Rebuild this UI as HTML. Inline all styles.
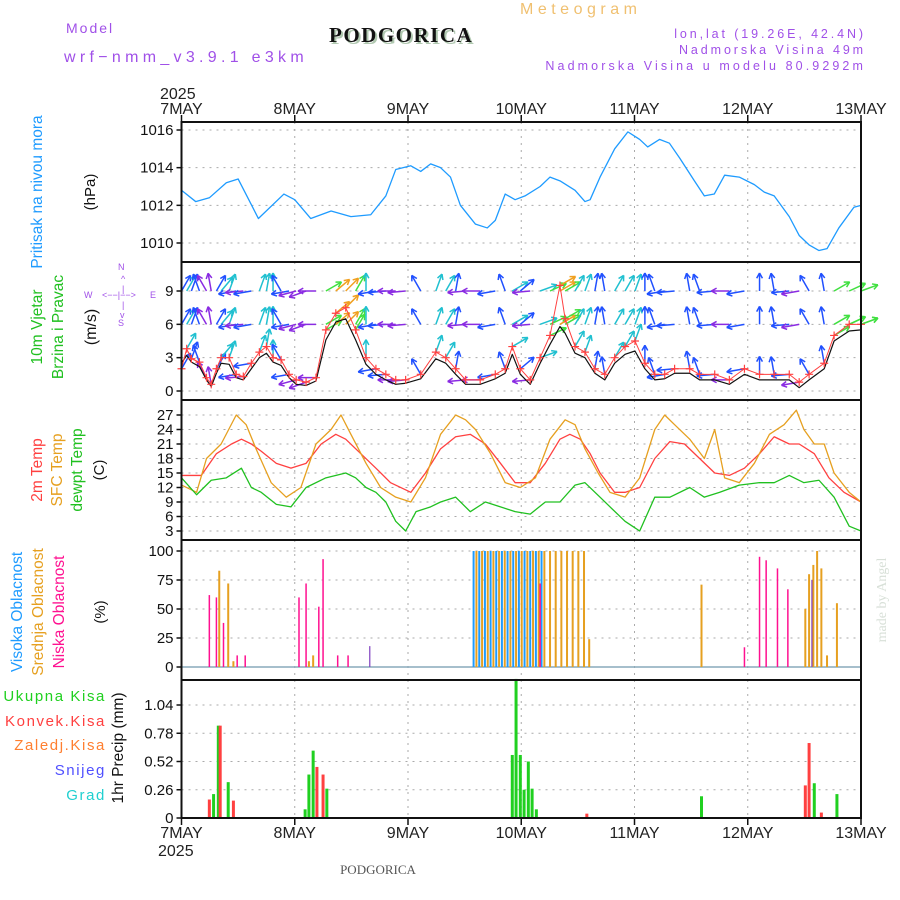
<!DOCTYPE html>
<html><head><meta charset="utf-8"><style>
body{margin:0;background:#fff;}
svg{display:block;font-family:"Liberation Sans",sans-serif;}
</style></head><body>
<svg id="chart" width="900" height="900" viewBox="0 0 900 900">
<g id="texts">
<text x="66" y="33" font-size="14" fill="#a050e8" letter-spacing="2">Model</text>
<text x="64" y="62" font-size="16" fill="#a050e8" letter-spacing="4.3">wrf−nmm_v3.9.1 e3km</text>
<text x="331" y="44" font-size="21" font-weight="bold" fill="#b0c8b0" font-family="Liberation Serif,serif" letter-spacing="1.5">PODGORICA</text>
<text x="329" y="42" font-size="21" font-weight="bold" fill="#111" font-family="Liberation Serif,serif" letter-spacing="1.5">PODGORICA</text>
<text x="520" y="14" font-size="16" fill="#f0c070" letter-spacing="4.5">Meteogram</text>
<text x="866" y="38" font-size="12.5" fill="#a050e8" text-anchor="end" letter-spacing="2.9">lon,lat (19.26E, 42.4N)</text>
<text x="866" y="54" font-size="12.5" fill="#a050e8" text-anchor="end" letter-spacing="2.9">Nadmorska Visina 49m</text>
<text x="866" y="70" font-size="12.5" fill="#a050e8" text-anchor="end" letter-spacing="3.1">Nadmorska Visina u modelu 80.9292m</text>
<text x="160" y="99" font-size="16" fill="#222">2025</text>
<text x="158" y="856" font-size="16" fill="#222">2025</text>
<text x="378" y="874" font-size="13" fill="#555" font-family="Liberation Serif,serif" text-anchor="middle">PODGORICA</text>
<text transform="translate(886,600) rotate(-90)" font-size="14" fill="#d8e0d8" font-family="Liberation Serif,serif" text-anchor="middle">made by Angel</text>
<text transform="translate(42,192) rotate(-90)" font-size="15.5" fill="#1e9bff" text-anchor="middle">Pritisak na nivou mora</text>
<text transform="translate(95,192) rotate(-90)" font-size="15" fill="#111" text-anchor="middle">(hPa)</text>
<text transform="translate(42,327) rotate(-90)" font-size="15.5" fill="#20c020" text-anchor="middle">10m Vjetar</text>
<text transform="translate(63,327) rotate(-90)" font-size="15.5" fill="#20c020" text-anchor="middle">Brzina i Pravac</text>
<text transform="translate(96,327) rotate(-90)" font-size="16" fill="#111" text-anchor="middle">(m/s)</text>
<g font-size="9" fill="#a050e8"><text x="118" y="270">N</text><text x="84" y="298">W</text><text x="150" y="298">E</text><text x="118" y="326">S</text><text x="102" y="298">&lt;−−|−−&gt;</text><text x="121" y="282">^</text><text x="122" y="292">|</text><text x="122" y="308">|</text><text x="120" y="318">v</text></g>
<text transform="translate(42,470) rotate(-90)" font-size="15.5" fill="#ff4040" text-anchor="middle">2m Temp</text>
<text transform="translate(62,470) rotate(-90)" font-size="15.5" fill="#e6a020" text-anchor="middle">SFC Temp</text>
<text transform="translate(82,470) rotate(-90)" font-size="15.5" fill="#20c020" text-anchor="middle">dewpt Temp</text>
<text transform="translate(104,470) rotate(-90)" font-size="15" fill="#111" text-anchor="middle">(C)</text>
<text transform="translate(22,612) rotate(-90)" font-size="15.5" fill="#1e9bff" text-anchor="middle">Visoka Oblacnost</text>
<text transform="translate(43,612) rotate(-90)" font-size="15.5" fill="#e6a020" text-anchor="middle">Srednja Oblacnost</text>
<text transform="translate(64,612) rotate(-90)" font-size="15.5" fill="#ff1090" text-anchor="middle">Niska Oblacnost</text>
<text transform="translate(105,612) rotate(-90)" font-size="15" fill="#111" text-anchor="middle">(%)</text>
<g font-size="15" text-anchor="end" letter-spacing="1.6">
<text x="106" y="701" fill="#20d020">Ukupna Kisa</text>
<text x="106" y="726" fill="#ff4040">Konvek.Kisa</text>
<text x="106" y="750" fill="#ff7f30">Zaledj.Kisa</text>
<text x="106" y="775" fill="#5050ff">Snijeg</text>
<text x="106" y="800" fill="#20d0d0">Grad</text>
</g>
<text transform="translate(123,748) rotate(-90)" font-size="15.5" fill="#111" text-anchor="middle">1hr Precip (mm)</text>
</g>
<g id="plot"></g>
</svg>
<script>
const days=["7MAY","8MAY","9MAY","10MAY","11MAY","12MAY","13MAY"];
const presT=[0,3,5.9,9.5,12,16.3,21.7,24,27.4,31.7,35.9,40.1,43.3,45.4,48.6,50.7,52.8,54.9,57,59.1,62.3,64.8,66.5,68.6,70.7,72.8,76,78.1,80.2,83.4,85.5,86.6,88.7,91.8,94.6,97.1,98.8,101.3,103.4,105.6,108.7,110.8,112.9,115.1,118.2,121.4,123.5,125.6,128.8,130.9,133,135.1,136.8,139.3,142.5,144];
const presV=[1012.8,1012.2,1012.4,1013.2,1013.4,1011.3,1012.6,1012.3,1011.3,1011.7,1011.4,1011.5,1012.5,1013.9,1014.1,1013.8,1014.2,1014.0,1013.5,1012.0,1011.0,1010.8,1011.2,1012.6,1012.3,1012.5,1013.0,1013.5,1013.3,1012.8,1012.2,1012.3,1013.5,1015.0,1015.9,1015.5,1015.1,1015.5,1015.3,1014.5,1013.3,1012.5,1012.6,1013.6,1013.5,1013.1,1012.7,1012.5,1011.4,1010.4,1009.9,1009.6,1009.7,1010.8,1011.9,1012.0];
const presTicks=[1010,1012,1014,1016];
const windT=[0,1.1,2.1,3.8,5.3,6.3,7.4,8.4,10.1,11.6,13.1,14.8,16.5,18,19.4,21.1,22.8,24.3,26.4,28.5,30.6,32.7,34.8,36.9,39.1,41.2,43.3,45.4,47.5,50.7,53.9,56,58.1,60.2,63.3,66.5,68.6,70.1,71.8,73.9,76,78.1,80.2,81.3,83.4,85.5,87.6,89.7,91.8,94,96.1,98.2,100.3,102.4,104.5,107.7,109.8,113,116.1,119.3,122.5,125.6,128.8,130.9,133,136.2,138.3,141.5,144];
const windV=[2,3.8,2.9,2.6,1.2,0.6,2.0,3.0,3.0,1.5,1.3,2.5,3.5,4.0,3.0,2.8,1.5,1.0,0.8,1.2,5.5,7.0,7.5,5.5,3.0,2.0,1.5,1.0,1.0,1.5,3.5,3.0,2.0,1.0,1.0,1.5,2.0,4.0,2.0,1.0,3.0,5.0,9.5,6.5,4.0,3.5,2.0,1.5,3.0,4.0,4.5,2.5,1.5,1.5,2.0,2.0,1.5,1.5,1.0,2.0,1.5,1.5,1.5,0.8,1.5,2.5,5.0,6.0,6.0];
const windMeanV=[2.5,3.2,2.6,2.2,1.0,0.4,1.6,2.5,2.4,1.2,1.0,2.0,3.0,3.4,2.6,2.3,1.2,0.6,0.5,0.9,4.6,6.2,6.5,4.6,2.4,1.5,1.0,0.6,0.7,1.1,2.9,2.5,1.5,0.6,0.6,1.1,1.6,3.3,1.5,0.6,2.5,4.2,5.8,5.2,3.4,3.0,1.6,1.0,2.5,3.3,3.6,2.0,1.0,1.1,1.6,1.6,1.0,1.0,0.6,1.5,1.0,1.0,1.0,0.3,1.0,2.0,4.5,5.4,5.5];
const windDir=[-60,-60,-70,-110,-120,-100,-60,-50,-70,170,175,170,-70,-80,-90,-120,170,165,160,180,-30,-40,-45,-60,-90,170,175,180,175,-120,-70,-60,-80,175,180,170,-110,-30,-40,175,-20,-25,-30,-30,-60,-70,-80,-100,-60,-60,-70,-90,-110,170,175,-100,-110,175,180,170,-90,-100,175,170,-120,-100,-30,-25,-20];
const windTicks=[0,3,6,9];
const t2T=[0,4.2,7.4,10.6,12.7,14.8,16.9,20.1,23.2,26.4,29.6,32.7,34.8,38,41.2,44.3,48.6,51.7,54.9,58.1,61.2,64.4,67.6,70.7,73.9,77.1,80.2,82.3,84.5,86.6,88.7,91.8,94,97.1,100.3,103.5,106.6,109.8,113,116.1,119.3,122.5,125.6,128.8,130.9,134.1,137.2,140.4,144];
const t2V=[14.5,14.5,19,21,22,21,19.5,17,16,17,21,23,22,19,16,13,11,15,20,22.5,23,21,17,13,13,17,22,23,22,19,15,11,11,12,18,21.5,21,18,15,14.5,16,19,22.5,21,21,19,14,11,9];
const sfcT=[0,3.2,5.3,8.4,11.6,13.7,15.8,19,22.2,25.3,28.5,31.7,33.8,35.9,39.1,42.2,45.4,48.6,51.7,54.9,58.1,60.2,62.3,65.5,68.6,71.8,75,78.1,81.3,83.4,85.5,88.3,90.8,94,97.1,100.3,102.4,104.5,107.7,110.8,113,115.1,118.2,121.4,124.6,127.7,130.3,131.9,134.1,136.2,138.3,141.5,144];
const sfcV=[12.5,11,18,21,27,25,20,13,10,12,21,24,27,23,17,12,10,9,14,23,27,26,24,19,13,12,14,22,26,25,20,15,11,10,14,24,27,25,22,18,24,14,13,17,23,25,28,24,21,21,15,11,9];
const dewT=[0,3.2,6.3,9.5,12.7,14.8,16.9,20.1,23.2,26.4,30.6,34.8,36.9,39.1,41.2,43.3,45.4,47.5,49.7,52.8,54.9,58.1,61.2,64.4,67.6,70.7,73.9,77.1,80.2,83.4,85.5,88.7,90.8,94,97.1,100.3,103.5,107.7,110.8,114,118.2,122.5,125.6,128.8,131.9,135.1,138.3,141.5,144];
const dewV=[14,10.5,13.5,14,16,12,11,8.5,8,12,14,15,14,12,11,9,5,3,7,8,9,10,7,9,8,7,6.5,9,9,12.5,13,10,8,5,3,10,10,12,10,11,12.5,13,13,14.5,13,13.5,10,4,3];
const tempTicks=[3,6,9,12,15,18,21,24,27];
const lowT=[5.9,7.4,8.9,11.8,13.5,24.9,26.4,29.1,30,33.1,35.3,76,119.3,122.5,123.9,126.3,128.5];
const lowV=[62,60,38,10,10,60,72,52,93,10,10,72,17,95,92,85,67];
const midT=[8,9.9,11,27,27.9,62.5,63.7,64.9,66.1,67.3,68.5,69.7,70.9,72.1,73.3,74.5,75.7,76.9,78.1,79.3,80.5,81.7,82.9,84.1,85.3,86.4,110.2,132.2,133,133.9,134.7,135.6,136.8,138.9];
const midV=[83,72,5,5,10,100,100,100,100,100,100,100,100,100,100,100,100,100,100,100,100,100,100,100,100,24,71,50,80,88,100,85,10,55];
const highT=[61.9,63.1,64.3,65.5,66.7,67.9,69.1,70.3,71.5,72.7,73.9,75.1,76.3];
const highV=[100,100,100,100,100,100,100,100,100,100,100,100,100];
const purpT=[39.9,133.6];
const purpV=[18,75];
const cloudTicks=[0,25,50,75,100];
const rainT=[6.8,7.8,9.9,26.2,27,27.9,30.8,70.1,70.9,71.8,72.6,73.5,74.3,75.2,110.2,134.1,138.9];
const rainV=[0.22,0.85,0.33,0.08,0.40,0.62,0.27,0.58,1.28,0.58,0.26,0.52,0.27,0.08,0.2,0.32,0.22];
const convT=[5.9,8.2,11,28.7,30,85.9,132.2,133,135.6];
const convV=[0.17,0.85,0.16,0.47,0.40,0.04,0.30,0.69,0.05];
const precipTicks=[0,0.26,0.52,0.78,1.04];

const NS='http://www.w3.org/2000/svg';
const plot=document.getElementById('plot');
const X0=181.5,X1=861;
const x=h=>X0+(X1-X0)*h/144;
function mk(tag,attrs,parent){const e=document.createElementNS(NS,tag);for(const k in attrs)e.setAttribute(k,attrs[k]);(parent||plot).appendChild(e);return e;}
function lin(d0,d1,r0,r1){return v=>r0+(v-d0)*(r1-r0)/(d1-d0);}
const yP=lin(1010,1016,243,130);
const yW=lin(0,9,391,291);
const yT=lin(3,27,531,415);
const yC=lin(0,100,667,551);
const yR=lin(0,1.04,818,705);
const panels=[[122,262],[262,400],[400,540],[540,680],[680,818]];
function grid(y0,y1,ticks,yf,fmt,name){
  for(let d=1;d<6;d++){const gl=mk('line',{x1:x(d*24),x2:x(d*24),y1:y0,y2:y1,stroke:'#aaa','stroke-dasharray':'2,5'});}
  ticks.forEach(v=>{const yy=yf(v);
    const g=mk('line',{x1:X0,x2:X1,y1:yy,y2:yy,stroke:'#aaa','stroke-dasharray':'2,5'});
    
    
    mk('line',{x1:X0-5,x2:X0,y1:yy,y2:yy,stroke:'#111','stroke-width':1.5});
    const t=mk('text',{x:X0-8,y:yy+5,'font-size':15,'text-anchor':'end',fill:'#111'});t.textContent=fmt(v);
    
    
  });
}
grid(122,262,presTicks,yP,v=>v,'pressure');
grid(262,400,windTicks,yW,v=>v,'wind');
grid(400,540,tempTicks,yT,v=>v,'temp');
grid(540,680,cloudTicks,yC,v=>v,'cloud');
grid(680,818,precipTicks,yR,v=>v===0?'0':v.toFixed(2),'precip');
function line(T,V,yf,color,name,w){
  const p=mk('polyline',{points:T.map((t,i)=>x(t)+','+yf(V[i])).join(' '),fill:'none',stroke:color,'stroke-width':w||1.3,'stroke-linejoin':'round'});
  
  
}
line(presT,presV,yP,'#1e9bff','pressure-line');
function wcol(s){return s<1.5?'#8a2be2':s<3?'#2050ff':s<5?'#20c0d0':s<7?'#40e040':'#f0a020';}
windT.forEach((t,i)=>{
  const a=windDir[i]*Math.PI/180, s=windV[i], L=18;
  [yW(9),yW(6),yW(s)].forEach(by=>{
    const cx=x(t), ex=cx+L*Math.cos(a), ey=by+L*Math.sin(a);
    const b=mk('line',{x1:cx,y1:by,x2:ex,y2:ey,stroke:wcol(s),'stroke-width':1.5});
    
    
    mk('line',{x1:ex,y1:ey,x2:ex-6*Math.cos(a-0.5),y2:ey-6*Math.sin(a-0.5),stroke:wcol(s),'stroke-width':1.5});
    mk('line',{x1:ex,y1:ey,x2:ex-6*Math.cos(a+0.5),y2:ey-6*Math.sin(a+0.5),stroke:wcol(s),'stroke-width':1.5});
  });
});
line(windT,windMeanV,yW,'#111','wind-mean-line',1.2);
line(windT,windV,yW,'#ff4040','wind-speed-line',1);
windT.forEach((t,i)=>{const cx=x(t),cy=yW(windV[i]);
  const c=mk('path',{d:`M${cx-4},${cy}h8M${cx},${cy-4}v8`,stroke:'#ff4040','stroke-width':1.2});
  
  
});
line(t2T,t2V,yT,'#ff4040','temp-2m-line');
line(sfcT,sfcV,yT,'#e6a020','temp-sfc-line');
line(dewT,dewV,yT,'#20c020','dewpoint-line');
mk('line',{x1:X0,x2:X1,y1:yC(0),y2:yC(0),stroke:'#8ab','stroke-width':1.5});
function bars(T,V,yf,color,name,w,off){T.forEach((t,i)=>{const r=mk('rect',{x:x(t)+(off||0)-w/2,y:yf(V[i]),width:w,height:Math.max(0,yf(0)-yf(V[i])),fill:color});
  
  });}
bars(highT,highV,yC,'#1e9bff','high-cloud-bar',2);
bars(midT,midV,yC,'#e6a020','mid-cloud-bar',2);
bars(lowT,lowV,yC,'#ff1090','low-cloud-bar',1.5);
bars(purpT,purpV,yC,'#8040c0','cloud-bar-other',1.2);
bars(rainT,rainV,yR,'#20d020','total-rain-bar',3,0);
bars(convT,convV,yR,'#ff4040','convective-rain-bar',3,0);
panels.forEach(([a,b],i)=>{const r=mk('rect',{x:X0,y:a,width:X1-X0,height:b-a,fill:'none',stroke:'#111','stroke-width':2});
  
  });
days.forEach((d,i)=>{const xx=x(i*24);
  mk('line',{x1:xx,x2:xx,y1:115,y2:122,stroke:'#111','stroke-width':1.5});
  mk('line',{x1:xx,x2:xx,y1:818,y2:825,stroke:'#111','stroke-width':1.5});
  const t=mk('text',{x:xx,y:114,'font-size':16,'text-anchor':'middle',fill:'#222'});t.textContent=d;
  
  
  const b=mk('text',{x:xx,y:838,'font-size':16,'text-anchor':'middle',fill:'#222'});b.textContent=d;
  
  
});
</script>
</body></html>
